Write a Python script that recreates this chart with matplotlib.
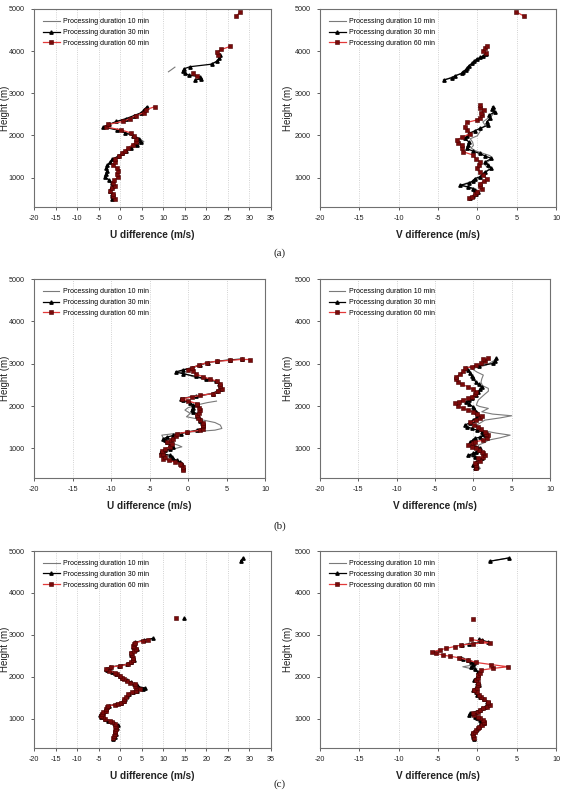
import numpy as np
import matplotlib
matplotlib.use("Agg")
import matplotlib.pyplot as plt

plt.rcParams['font.family'] = ['Liberation Sans', 'DejaVu Sans']
plt.rcParams['axes.unicode_minus'] = False

nan = np.nan
labels = ["Processing duration 10 min", "Processing duration 30 min", "Processing duration 60 min"]

# ---------------- (a) U difference ----------------
a_h_low = [500, 560, 620, 680, 740, 800, 870, 940, 1010, 1080, 1150, 1220, 1290, 1360, 1430, 1500,
           1570, 1640, 1710, 1780, 1850, 1920, 1990, 2060, 2130, 2200, 2260, 2330, 2400, 2470, 2540, 2610, 2680]
a_u10_low = [-1.9, -2.1, -1.8, -2.3, -2.0, -1.5, -2.2, -2.8, -3.7, -3.4, -3.1, -3.2, -2.8, -2.2, -1.5, -0.3,
             0.8, 1.9, 3.1, 4.4, 5.5, 4.6, 3.3, 1.5, -0.4, -3.6, -2.3, -0.6, 1.7, 3.5, 5.2, 5.7, 6.4]
a_u30_low = [-1.8, -2.0, -1.9, -2.4, -2.1, -1.6, -2.0, -2.5, -3.5, -3.3, -3.0, -3.2, -3.0, -2.4, -1.8, -0.6,
             0.4, 1.4, 2.5, 3.8, 4.8, 4.3, 3.0, 1.2, -0.8, -3.9, -2.6, -0.9, 1.4, 3.2, 4.9, 5.5, 6.2]
a_u60_low = [-1.3, -1.6, -1.6, -2.3, -1.8, -1.2, -1.7, -1.4, -0.5, -0.7, -0.4, -0.8, -1.6, -1.3, -1.1, -0.3,
             0.5, 1.2, 1.9, 2.9, 3.7, 3.6, 3.2, 2.4, 0.2, -3.3, -2.8, 0.6, 2.3, 3.6, 5.6, 6.0, 8.0]
a_u10_h_up = [3510, 3560, 3620, nan, 3690, 3760, 3830, 3900]
a_u10_up = [11.2, 11.9, 12.7, nan, 21.0, 22.6, 23.2, 23.0]
a_u30_h_up = [3310, 3350, 3390, 3430, 3470, 3520, 3580, 3630, 3690, 3760, 3830, 3900]
a_u30_up = [17.4, 18.8, 18.5, 16.0, 15.0, 14.6, 14.8, 16.2, 21.2, 22.4, 23.0, 23.2]
a_u60_h_up = [3400, 3470, nan, 3900, 3970, 4040, 4110, nan, 4830, 4920]
a_u60_up = [17.8, 16.8, nan, 22.8, 22.4, 23.5, 25.5, nan, 26.9, 27.8]

# ---------------- (a) V difference ----------------
a_v10_h = [500, 560, 620, 680, 740, 800, 860, 920, 980, 1040, 1100, 1160, 1220, 1290, 1370, 1450, 1520, 1580,
           1640, 1700, 1760, 1840, 1920, 1990, 2050, 2110, 2170, 2240, 2320, 2400, 2480, 2560, 2640, 2680,
           nan, 3330, 3400, 3470, 3550, 3620, 3700, 3780, 3850, 3900]
a_v10 = [-0.8, -0.4, 0.0, -0.2, -0.8, -1.8, -1.5, -0.4, 0.2, 0.6, 1.0, 1.3, 1.5, 1.0, 1.3, 1.9, 1.6, 0.6,
         -0.3, -0.8, -0.5, -0.6, -0.9, 0.0, 0.2, 0.4, 0.6, 1.0, 0.7, 1.3, 1.9, 2.0, 2.3, 1.9,
         nan, -4.0, -3.0, -2.1, -1.3, -1.0, -0.4, 0.0, 0.7, 1.3]
a_v30_h = [502, 565, 620, 660, 700, 739, 780, 818, 870, 920, 976, 1016, 1080, 1135, 1214, 1293, 1370, 1452,
           1510, 1570, 1630, 1689, 1760, 1848, 1927, 1990, 2046, 2110, 2165, 2244, 2320, 2402, 2480, 2560,
           2620, 2680, nan, 3313, 3370, 3416, 3470, 3511, 3560, 3591, 3650, 3710, 3760, 3812, 3850, 3891, 3940]
a_v30 = [-0.9, -0.5, -0.2, 0.1, -0.3, -0.5, -1.2, -2.2, -1.0, -0.6, -0.3, 0.3, 0.7, 1.0, 1.8, 1.4, 1.0, 1.8,
         1.0, 0.3, -0.6, -1.35, -1.2, -1.1, -1.6, -1.3, -1.1, -0.3, 0.3, 1.4, 1.2, 1.6, 1.5, 2.25,
         1.9, 2.0, nan, -4.3, -3.2, -2.8, -2.0, -1.8, -1.5, -1.35, -1.1, -0.7, -0.4, -0.1, 0.4, 0.76, 1.1]
a_v60_h = [502, 541, 600, 660, 739, 800, 856, 910, 960, 1056, 1130, 1214, 1300, 1373, 1450, 1531, 1610,
           1690, 1768, 1830, 1887, 1960, 2040, 2120, 2204, 2307, 2363, 2420, 2481, 2540, 2600, 2660, 2720,
           nan, 3950, 4010, 4066, 4128, nan, 4834, 4936]
a_v60 = [-1.1, -0.7, -0.3, -0.1, 0.55, 0.3, 0.34, 0.8, 1.2, 0.76, 0.3, -0.1, 0.2, 0.34, -0.2, -0.5, -1.8,
         -2.0, -2.0, -2.4, -2.6, -1.9, -0.9, -1.3, -1.6, -1.35, -0.1, 0.4, 0.55, 0.5, 0.8, 0.4, 0.3,
         nan, 1.1, 0.7, 1.0, 1.2, nan, 5.9, 4.9]

# ---------------- (b) U difference ----------------
b_u10_h = [520, 565, 640, 683, 720, 761, 820, 919, 980, 1036, 1076, 1150, 1233, 1312, 1375, 1430, 1470, 1549,
           1610, 1667, 1746, 1825, 1904, 1960, 2022, 2080, 2116, nan, 2180, 2230, 2293, 2350, 2411, 2470,
           2530, 2585, 2640, 2700, 2760, 2810, 2860, 2900, 2960, 3030]
b_u10 = [-0.5, -0.6, -1.0, -1.7, -2.6, -3.2, -3.4, -3.6, -2.0, -0.8, -1.3, -2.6, -3.2, -3.4, -0.6, 3.5, 4.4, 4.2,
         3.5, 2.0, -0.2, 0.3, -0.4, 0.0, 1.1, 2.5, 3.7, nan, -0.9, 0.8, 3.0, 3.7, 4.2, 4.2,
         4.0, 3.5, 2.0, 0.5, -0.3, -1.2, -0.6, 0.3, 1.3, 2.5]
b_u30_h = [517, 560, 635, 680, 714, 760, 793, 833, 872, 920, 951, 990, 1030, 1080, 1148, 1190, 1227, 1267,
           1306, 1346, 1385, 1430, 1470, 1543, 1600, 1650, 1700, 1760, 1820, 1860, 1898, 1960, 2020, 2080,
           2140, 2174, 2230, 2293, 2350, 2411, 2470, 2530, 2585, 2640, 2700, 2760, 2806, 2850, 2900, 2964,
           3027, 3060, 3090, 3110]
b_u30 = [-0.6, -0.6, -0.8, -1.1, -1.4, -2.0, -2.1, -2.3, -3.2, -3.5, -3.0, -2.3, -1.9, -2.3, -2.7, -3.0, -3.2, -2.7,
         -1.9, -0.9, -0.1, 1.2, 1.8, 2.0, 1.8, 1.6, 1.6, 1.2, 1.2, 0.6, 0.5, 0.6, 0.7, 0.2,
         -0.6, -0.9, 1.0, 3.2, 3.8, 4.3, 4.1, 4.0, 3.6, 2.3, 1.0, -0.6, -1.6, -0.7, 0.5, 1.5,
         2.6, 3.8, 5.5, 7.0]
b_u60_h = [500, 556, 600, 635, 680, 714, 760, 793, 850, 872, 930, 990, 1040, 1100, 1148, 1190, 1227, 1290,
           1346, 1385, 1425, 1464, 1520, 1560, 1610, 1661, 1720, 1780, 1840, 1898, 1960, 2020, 2056, 2120,
           2174, 2210, 2253, 2293, 2350, 2411, 2470, 2530, 2585, 2640, 2687, 2760, 2822, 2860, 2900, 2964,
           3027, 3058, 3080, 3100, 3098]
b_u60 = [-0.6, -0.6, -0.9, -1.0, -1.7, -2.5, -3.2, -3.0, -3.5, -3.2, -3.4, -3.0, -2.3, -2.1, -2.7, -2.2, -1.9, -1.6,
         -1.4, -0.1, 1.6, 2.0, 1.9, 2.0, 1.9, 1.6, 1.3, 1.2, 1.4, 1.6, 1.4, 1.2, 1.2, 0.0,
         -0.8, 0.5, 1.6, 3.3, 3.9, 4.4, 4.2, 4.2, 3.8, 2.8, 2.0, 1.0, 0.7, 0.0, 0.5, 1.4,
         2.5, 3.8, 5.5, 7.0, 8.1]

# ---------------- (b) V difference ----------------
b_v10_h = [525, 580, 640, 722, 801, 860, 919, 998, 1076, 1140, 1194, 1250, 1312, 1360, 1420, 1480, 1549, 1610,
           1667, 1720, 1770, 1810, 1864, 1943, 1990, 2022, 2080, 2140, 2200, 2280, 2350, 2416, 2480, 2560,
           2640, 2731, 2800, 2880, 2967, 3030, 3086]
b_v10 = [0.9, 0.7, 0.5, 1.1, -0.2, 0.5, 0.9, 0.8, 0.65, 1.5, 1.96, 3.5, 4.8, 3.0, 1.2, 0.6, 0.4, 1.0,
         1.5, 3.5, 5.0, 2.5, 1.1, 1.96, 0.8, 0.4, 0.5, 0.65, 1.0, 1.5, 1.96, 1.96, 1.2, 1.0,
         1.1, 1.3, 0.5, -0.2, 1.7, 2.3, 2.8]
b_v30_h = [525, 565, 604, 643, 683, 722, 761, 800, 840, 880, 919, 960, 998, 1040, 1076, 1115, 1155, 1194,
           1233, 1270, 1312, 1350, 1391, 1430, 1470, 1510, 1549, 1600, 1667, 1720, 1786, 1830, 1864, 1920,
           1982, 2040, 2100, 2140, 2179, 2250, 2337, 2400, 2455, 2510, 2573, 2652, 2710, 2770, 2840, 2904,
           2950, 3006, 3060, 3125]
b_v30 = [0.2, 0.5, 0.0, 0.3, 0.4, 0.8, 1.1, 0.2, -0.65, 0.0, 0.4, 0.7, 0.9, 0.4, 0.0, -0.3, -0.4, -0.1,
         0.2, 0.9, 1.5, 1.3, 1.1, 0.5, -0.2, -0.8, -1.1, -0.5, 0.0, 0.4, 0.65, 0.5, 0.4, 0.1,
         0.0, -0.6, -0.9, -0.6, -0.2, 0.3, 0.65, 0.9, 1.1, 0.7, 0.3, 0.0, -0.2, -0.4, -0.7, -0.9,
         0.8, 2.6, 2.8, 3.0]
b_v60_h = [525, 600, 643, 700, 761, 800, 840, 880, 919, 960, 998, 1040, 1076, 1120, 1155, 1194, 1250, 1312,
           1350, 1391, 1450, 1509, 1560, 1612, 1667, 1720, 1770, 1820, 1864, 1900, 1943, 2000, 2061, 2100,
           2140, 2180, 2219, 2280, 2337, 2400, 2455, 2510, 2573, 2630, 2691, 2760, 2820, 2888, 2930, 2967,
           3010, 3060, 3100, 3125]
b_v60 = [0.4, 0.3, 0.2, 0.9, 0.65, 1.3, 1.5, 1.3, 1.1, 0.7, 0.4, -0.2, -0.65, -0.1, 0.2, 1.3, 1.8, 1.96,
         1.7, 1.5, 1.0, 0.65, 0.1, -0.4, 0.4, 0.9, 1.1, 0.5, 0.0, -0.7, -1.3, -2.0, -2.4, -1.9,
         -1.3, -0.7, -0.2, 0.2, 0.4, -0.1, -0.65, -1.5, -2.0, -2.3, -2.2, -1.7, -1.3, -1.1, -0.2, 0.4,
         1.0, 1.5, 1.3, 1.96]

# ---------------- (c) U difference ----------------
c_u10_h = [520, 580, 640, 700, 770, 849, 900, 950, 1000, 1050, 1090, 1140, 1190, 1230, 1280, 1310, 1340, 1385,
           1430, 1470, 1530, 1584, 1630, 1670, 1700, 1725, 1760, 1800, 1830, 1870, 1920, 1970, 2021, 2070,
           2110, 2150, 2190, 2230, 2260, 2300, 2350, 2400, 2457, 2520, 2576, 2630, 2670, 2720, 2770, 2820, 2860]
c_u10 = [-1.5, -1.2, -1.1, -1.0, -0.9, -0.6, -1.4, -2.6, -3.4, -4.3, -4.7, -4.1, -3.7, -3.2, -3.1, -2.4, -1.2, 0.0,
         0.7, 1.1, 1.6, 2.2, 3.2, 4.2, 5.3, 6.0, 4.5, 3.6, 3.0, 2.4, 1.6, 0.6, 0.1, -0.7, -1.6, -2.8, -3.1, -2.2,
         -0.5, 1.4, 2.2, 3.0, 3.0, 2.5, 2.2, 3.3, 3.6, 2.9, 3.1, 3.4, 5.0]
c_u30_h = [516, 570, 640, 700, 770, 849, 900, 950, 1000, 1050, 1090, 1140, 1190, 1230, 1280, 1306, 1340, 1385,
           1430, 1470, 1530, 1584, 1630, 1670, 1703, 1730, 1760, 1800, 1830, 1870, 1920, 1970, 2021, 2070,
           2110, 2150, 2190, 2230, 2260, 2300, 2350, 2400, 2457, 2520, 2576, 2630, 2670, 2720, 2770, 2820,
           2870, 2917, nan, 3397, nan, 4770, 4841]
c_u30 = [-1.6, -1.3, -1.0, -1.1, -0.8, -0.45, -1.5, -2.8, -3.6, -4.5, -4.6, -4.0, -3.6, -3.4, -3.0, -2.6, -1.0, 0.2,
         0.8, 1.2, 1.5, 2.0, 3.0, 4.0, 5.2, 5.8, 4.2, 3.8, 3.2, 2.5, 1.5, 0.5, 0.0, -0.9, -1.8, -3.0, -3.3, -2.4,
         -0.3, 1.6, 2.4, 3.2, 2.9, 2.6, 2.4, 3.4, 3.8, 3.0, 3.2, 3.5,
         5.5, 7.6, nan, 14.8, nan, 28.0, 28.6]
c_u60_h = [532, 580, 632, 680, 711, 760, 790, 830, 870, 910, 949, 989, 1030, 1068, 1110, 1147, 1190, 1227,
           1270, 1306, 1330, 1360, 1385, 1425, 1465, 1520, 1584, 1630, 1664, 1703, 1743, 1790, 1823, 1862,
           1900, 1942, 1980, 2021, 2060, 2100, 2140, 2180, 2235, 2259, 2298, 2350, 2400, 2457, 2520, 2576,
           2620, 2655, 2700, 2735, 2780, 2814, 2850, 2870, nan, 3413]
c_u60 = [-1.7, -1.5, -1.3, -1.2, -1.3, -1.0, -0.9, -1.1, -1.3, -2.0, -2.4, -3.6, -4.0, -4.4, -4.2, -4.0, -3.4, -3.2,
         -3.0, -2.8, -1.3, -0.5, 0.3, 0.8, 1.0, 1.4, 1.8, 2.8, 3.7, 4.6, 3.7, 3.5, 3.4, 2.2,
         1.6, 1.0, 0.4, -0.1, -0.8, -1.3, -2.6, -3.2, -2.1, -0.1, 1.8, 2.4, 2.9, 3.0, 2.7, 2.6,
         3.2, 3.7, 3.2, 3.0, 3.1, 3.4, 5.2, 6.4, nan, 13.0]

# ---------------- (c) V difference ----------------
c_v10_h = [520, 580, 651, 700, 760, 810, 860, 900, 950, 1000, 1048, 1088, 1130, 1180, 1230, 1290, 1340, 1390,
           1450, 1520, 1580, 1640, 1700, 1760, 1802, 1860, 1921, 1990, 2060, 2130, 2190, 2238, 2280, 2330,
           2380, 2430, nan, 4754, 4833]
c_v10 = [-0.3, -0.5, -0.6, -0.2, 0.0, 0.3, 0.6, 0.7, 0.3, 0.1, 0.2, -0.6, -0.8, -0.1, 0.5, 1.1, 1.5, 1.3,
         0.8, 0.5, 0.2, 0.1, -0.3, 0.2, 0.5, 0.3, -0.2, 0.0, 0.2, -0.1, -0.7, -1.85, -0.6, -0.3,
         -0.9, -1.7, nan, 1.5, 3.9]
c_v30_h = [520, 560, 600, 651, 700, 750, 800, 850, 889, 930, 968, 1010, 1048, 1088, 1127, 1167, 1210, 1246,
           1290, 1325, 1365, 1405, 1460, 1524, 1570, 1630, 1683, 1740, 1802, 1860, 1921, 1980, 2040, 2119,
           2180, 2238, 2280, 2317, 2360, 2397, 2430, 2455, nan, 2754, 2790, 2833, 2870, 2897, nan, 4754, 4833]
c_v30 = [-0.4, -0.6, -0.5, -0.7, -0.3, -0.1, 0.2, 0.4, 0.8, 0.5, 0.4, 0.0, -0.3, -1.0, -0.9, -0.2, 0.3, 0.6,
         1.0, 1.4, 1.5, 1.2, 0.8, 0.4, 0.0, -0.2, -0.5, -0.2, 0.2, 0.0, -0.4, -0.1, 0.1, 0.06,
         -0.3, -0.8, -0.5, -0.37, -0.8, -1.2, -1.8, -2.1, nan, -2.0, -1.0, 1.33, 0.6, 0.27, nan, 1.55, 3.97]
c_v60_h = [532, 600, 651, 690, 730, 770, 810, 850, 889, 930, 968, 1010, 1048, 1090, 1127, 1167, 1210, 1246,
           1290, 1325, 1365, 1405, 1460, 1524, 1570, 1630, 1683, 1740, 1802, 1860, 1921, 1980, 2040, 2100,
           2159, 2200, 2238, 2290, 2341, 2400, 2452, 2490, 2516, 2560, 2595, 2640, 2675, 2720, 2754, 2790,
           2810, 2849, 2889, nan, 3389]
c_v60 = [-0.37, -0.5, -0.58, -0.3, -0.16, 0.1, 0.27, 0.6, 0.9, 0.8, 0.7, 0.3, 0.06, -0.4, -0.58, 0.06, 0.4, 0.7,
         1.2, 1.55, 1.4, 1.3, 0.9, 0.5, 0.2, -0.1, -0.37, -0.1, 0.06, 0.1, -0.16, 0.1, 0.06, 0.3,
         0.5, 2.0, 3.9, 1.8, -0.16, -1.2, -2.3, -3.5, -4.4, -5.2, -5.7, -4.8, -4.0, -2.9, -2.1, -0.5,
         1.55, 0.5, -0.8, nan, -0.58]


def cat(*parts):
    out = []
    for i, p in enumerate(parts):
        if i:
            out.append(nan)
        out.extend(p)
    return out


fig = plt.figure(figsize=(5.62, 7.91), dpi=100)
W, H = 562.0, 791.0


def add_ax(x0, y0, x1, y1):
    return fig.add_axes([x0 / W, 1 - y1 / H, (x1 - x0) / W, (y1 - y0) / H])


def panel(ax, series, xlim, xlabel, ylab_x):
    (h10, v10), (h30, v30), (h60, v60) = series
    ax.plot(v10, h10, color='#7a7a7a', lw=0.8, label=labels[0], zorder=2)
    ax.plot(v30, h30, color='black', lw=0.9, marker='^', ms=2.4, label=labels[1], zorder=3)
    ax.plot(v60, h60, color='#e23a3a', lw=0.9, marker='s', ms=2.5, mfc='#7a0a0a', mec='#4a0000',
            mew=0.4, label=labels[2], zorder=4)
    ax.set_xlim(*xlim)
    ax.set_ylim(300, 5000)
    ax.set_xticks(np.arange(xlim[0], xlim[1] + 1, 5))
    ax.set_yticks([1000, 2000, 3000, 4000, 5000])
    ax.xaxis.grid(True, linestyle=':', color='#c4c4c4', lw=0.6)
    ax.set_axisbelow(True)
    ax.tick_params(direction='out', length=2.5, width=0.6, labelsize=5.2, colors='#444444',
                   labelcolor='#222222', pad=3)
    ax.tick_params(axis='y', pad=4)
    for s in ax.spines.values():
        s.set_color('#707070')
        s.set_linewidth(0.8)
    ax.set_ylabel("Height (m)", fontsize=7, color='#222222')
    ax.yaxis.set_label_coords(ylab_x, 0.5)
    ax.set_xlabel(xlabel, fontsize=7.2, fontweight='bold', color='#222222')
    ax.xaxis.set_label_coords(0.5, -0.115)
    ax.legend(loc='upper left', bbox_to_anchor=(0.02, 0.975), frameon=False, fontsize=5.0,
              handlelength=2.4, handletextpad=0.5, labelspacing=0.55, borderaxespad=0.2)


ax1 = add_ax(34, 9, 271, 207)
panel(ax1, [(cat(a_h_low, a_u10_h_up), cat(a_u10_low, a_u10_up)),
            (cat(a_h_low, a_u30_h_up), cat(a_u30_low, a_u30_up)),
            (cat(a_h_low, a_u60_h_up), cat(a_u60_low, a_u60_up))],
      (-20, 35), "U difference (m/s)", -0.103)

ax2 = add_ax(320, 9, 556, 207)
panel(ax2, [(a_v10_h, a_v10), (a_v30_h, a_v30), (a_v60_h, a_v60)],
      (-20, 10), "V difference (m/s)", -0.115)

ax3 = add_ax(34, 279, 265, 478)
panel(ax3, [(b_u10_h, b_u10), (b_u30_h, b_u30), (b_u60_h, b_u60)],
      (-20, 10), "U difference (m/s)", -0.106)

ax4 = add_ax(320, 279, 550, 478)
panel(ax4, [(b_v10_h, b_v10), (b_v30_h, b_v30), (b_v60_h, b_v60)],
      (-20, 10), "V difference (m/s)", -0.118)

ax5 = add_ax(34, 551, 271, 748)
panel(ax5, [(c_u10_h, c_u10), (c_u30_h, c_u30), (c_u60_h, c_u60)],
      (-20, 35), "U difference (m/s)", -0.103)

ax6 = add_ax(320, 551, 556, 748)
panel(ax6, [(c_v10_h, c_v10), (c_v30_h, c_v30), (c_v60_h, c_v60)],
      (-20, 10), "V difference (m/s)", -0.115)

for lab, ypx in [("(a)", 253), ("(b)", 526), ("(c)", 784)]:
    fig.text(280 / W, 1 - ypx / H, lab, ha='center', va='center', fontsize=8,
             family=['Liberation Serif', 'DejaVu Serif'], color='#222222')

fig.savefig("out.png", dpi=100)
